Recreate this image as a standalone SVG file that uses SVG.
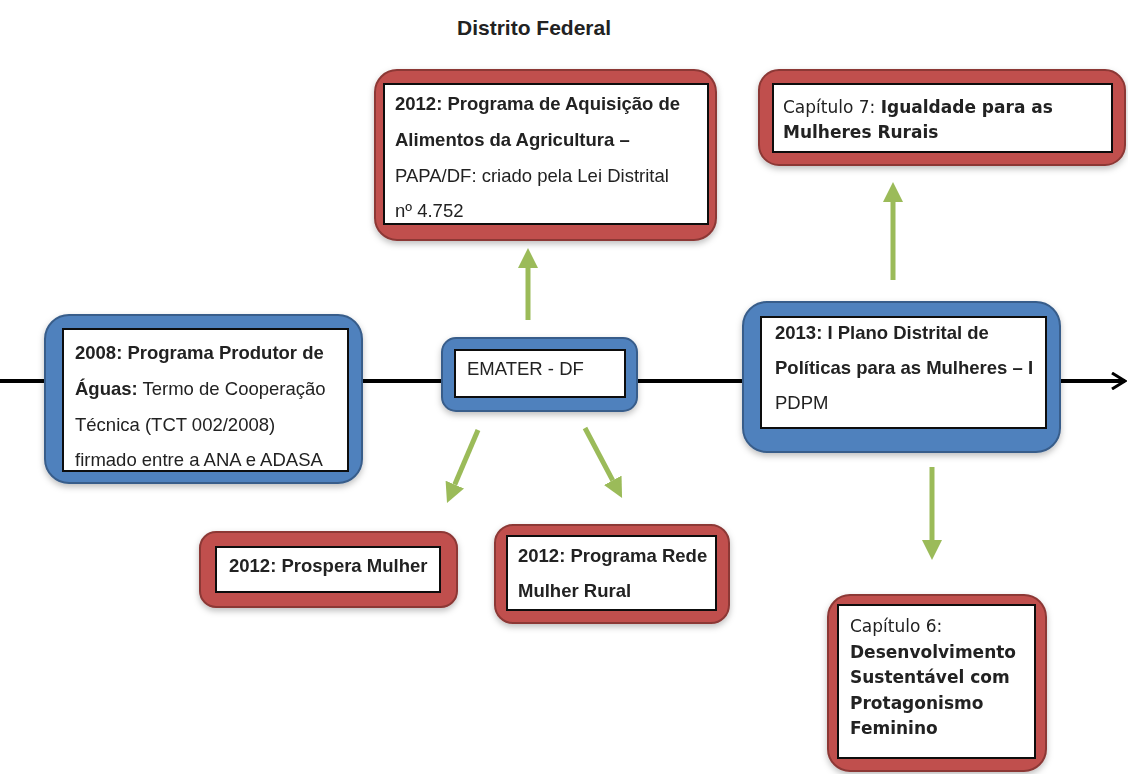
<svg xmlns="http://www.w3.org/2000/svg" width="1128" height="774" viewBox="0 0 1128 774">
<defs>
<style>
.red{fill:#C0504D;stroke:#8C3836;stroke-width:2}
.blue{fill:#4F81BD;stroke:#385D8A;stroke-width:2}
.in{fill:#fff;stroke:#111;stroke-width:2}
.t{font-family:"Liberation Sans",Arial,sans-serif;font-size:18.5px;fill:#222}
.v{font-family:"DejaVu Sans",Verdana,sans-serif;font-size:17px;fill:#222}
.b{font-weight:bold}
.g{stroke:#9BBB59;stroke-width:5;fill:none;marker-end:url(#gh)}
.k{stroke:#000;stroke-width:4;fill:none}
</style>
<marker id="gh" markerUnits="userSpaceOnUse" viewBox="0 0 20 20" refX="0" refY="10" markerWidth="20" markerHeight="20" orient="auto">
<path d="M0,0 L20,10 L0,20 z" fill="#9BBB59"/>
</marker>
<marker id="kh" markerUnits="userSpaceOnUse" viewBox="0 0 16 18" refX="14" refY="9" markerWidth="16" markerHeight="18" orient="auto">
<path d="M1,1 L14,9 L1,17" fill="none" stroke="#000" stroke-width="3"/>
</marker>
<filter id="sh" x="-10%" y="-10%" width="120%" height="130%">
<feDropShadow dx="0" dy="3" stdDeviation="3" flood-color="#000" flood-opacity="0.25"/>
</filter>
</defs>
<rect width="1128" height="774" fill="#fff"/>
<text x="457" y="35" class="t b" style="font-size:21px">Distrito Federal</text>

<g id="connectors">
<path class="k" d="M0,381 L48,381"/>
<path class="k" d="M362,381 L442,381"/>
<path class="k" d="M637,381 L743,381"/>
<path class="k" d="M1060,381 L1125,381" marker-end="url(#kh)"/>
<path class="g" d="M528,320 L528,268"/>
<path class="g" d="M893,280 L893,202"/>
<path class="g" d="M478,430 L454.8,484.6"/>
<path class="g" d="M585,428 L612.7,480.3"/>
<path class="g" d="M932,467 L932,540"/>
</g>

<g id="papa" filter="url(#sh)">
<rect class="red" x="375" y="70" width="341" height="170" rx="22"/>
<rect class="in" x="384" y="84" width="324" height="140"/>
<text class="t" x="395"><tspan class="b" x="395" y="110">2012: Programa de Aquisição de</tspan><tspan class="b" x="395" y="146">Alimentos da Agricultura –</tspan><tspan x="395" y="182">PAPA/DF: criado pela Lei Distrital</tspan><tspan x="395" y="217">nº 4.752</tspan></text>
</g>

<g id="cap7" filter="url(#sh)">
<rect class="red" x="759" y="70" width="366" height="95" rx="20"/>
<rect class="in" x="773" y="84" width="339" height="68"/>
<text class="v" x="783" y="113">Capítulo 7: <tspan class="b">Igualdade para as</tspan></text>
<text class="v b" x="783" y="138">Mulheres Rurais</text>
</g>

<g id="n2008" filter="url(#sh)">
<rect class="blue" x="45" y="315" width="317" height="168" rx="24"/>
<rect class="in" x="63" y="329" width="285" height="142"/>
<text class="t b" x="75" y="359">2008: Programa Produtor de</text>
<text class="t" x="75" y="395"><tspan class="b">Águas:</tspan> Termo de Cooperação</text>
<text class="t" x="75" y="431">Técnica (TCT 002/2008)</text>
<text class="t" x="75" y="466">firmado entre a ANA e ADASA</text>
</g>

<g id="emater" filter="url(#sh)">
<rect class="blue" x="442" y="338" width="195" height="73" rx="14"/>
<rect class="in" x="455" y="350" width="170" height="47"/>
<text class="t" x="467" y="375">EMATER - DF</text>
</g>

<g id="n2013" filter="url(#sh)">
<rect class="blue" x="743" y="302" width="317" height="150" rx="24"/>
<rect class="in" x="761" y="317" width="285" height="111"/>
<text class="t b" x="775" y="339">2013: I Plano Distrital de</text>
<text class="t b" x="775" y="374">Políticas para as Mulheres – I</text>
<text class="t" x="775" y="409">PDPM</text>
</g>

<g id="prospera" filter="url(#sh)">
<rect class="red" x="200" y="532" width="257" height="75" rx="16"/>
<rect class="in" x="216" y="547" width="224" height="45"/>
<text class="t b" x="229" y="572">2012: Prospera Mulher</text>
</g>

<g id="rede" filter="url(#sh)">
<rect class="red" x="495" y="525" width="234" height="98" rx="18"/>
<rect class="in" x="507" y="536" width="209" height="74"/>
<text class="t b" x="518" y="562">2012: Programa Rede</text>
<text class="t b" x="518" y="597">Mulher Rural</text>
</g>

<g id="cap6" filter="url(#sh)">
<rect class="red" x="828" y="595" width="218" height="176" rx="22"/>
<rect class="in" x="838" y="605" width="197" height="153"/>
<text class="v" x="850" y="632">Capítulo 6:</text>
<text class="v b" x="850" y="658">Desenvolvimento</text>
<text class="v b" x="850" y="683">Sustentável com</text>
<text class="v b" x="850" y="709">Protagonismo</text>
<text class="v b" x="850" y="734">Feminino</text>
</g>
</svg>
